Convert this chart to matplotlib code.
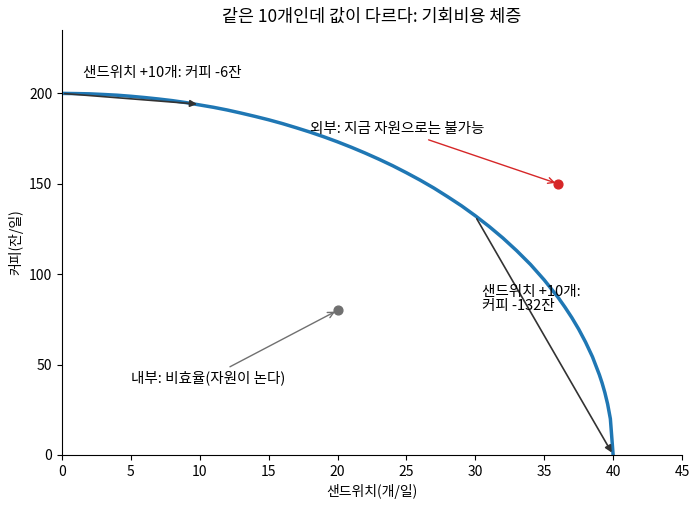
import matplotlib
matplotlib.use("Agg")
import matplotlib.pyplot as plt

plt.rcParams['font.family'] = ['Noto Sans CJK KR', 'DejaVu Sans']
plt.rcParams['axes.unicode_minus'] = False

# frontier points
sandwich = [0, 1, 2, 3, 4, 5, 6, 7, 8, 9, 10, 11, 12, 13, 14, 15, 16, 17, 18, 19, 20,
            21, 22, 23, 24, 25, 26, 27, 28, 29, 30, 31, 32, 33, 34, 35, 36, 36.5, 37,
            37.5, 38, 38.5, 39, 39.2, 39.4, 39.6, 39.8, 40]
coffee = [200, 199.9, 199.75, 199.4, 199.0, 198.4, 197.7, 196.9, 196.0, 194.9, 193.6,
          192.3, 190.8, 189.1, 187.3, 185.4, 183.3, 181.0, 178.6, 176.0, 173.2,
          170.2, 167.0, 163.6, 160.0, 156.1, 152.0, 147.6, 142.8, 137.8, 132.3,
          126.4, 120.0, 113.0, 105.4, 96.8, 87.2, 81.8, 76.0,
          69.6, 62.4, 54.3, 44.4, 39.8, 34.5, 28.2, 20.0, 0]

step1 = [(0, 200), (10, 194)]
step2 = [(30, 132), (40, 0)]
outside_pt = (36, 150)
inside_pt = (20, 80)

title = "같은 10개인데 값이 다르다: 기회비용 체증"
xlabel = "샌드위치(개/일)"
ylabel = "커피(잔/일)"
txt1 = "샌드위치 +10개: 커피 -6잔"
txt2 = "샌드위치 +10개:\n커피 -132잔"
txt_out = "외부: 지금 자원으로는 불가능"
txt_in = "내부: 비효율(자원이 논다)"

fig = plt.figure(figsize=(6.99, 5.07), dpi=100)
ax = fig.add_axes([0.0887, 0.1026, 0.887, 0.838])

ax.plot(sandwich, coffee, color='#1f77b4', lw=2.5, solid_joinstyle='round')

ax.annotate("", xy=step1[1], xytext=step1[0],
            arrowprops=dict(arrowstyle='-|>', color='#333333', lw=1.2))
ax.text(1.5, 209, txt1, fontsize=10.5)

ax.annotate("", xy=step2[1], xytext=step2[0],
            arrowprops=dict(arrowstyle='-|>', color='#333333', lw=1.2))
ax.text(30.5, 80, txt2, fontsize=10.5, linespacing=1.0)

ax.scatter([outside_pt[0]], [outside_pt[1]], color='#d62728', s=40, zorder=3)
ax.annotate(txt_out, xy=outside_pt, xytext=(18, 178), fontsize=10.5,
            arrowprops=dict(arrowstyle='->', color='#d62728', lw=1))

ax.scatter([inside_pt[0]], [inside_pt[1]], color='#707070', s=40, zorder=3)
ax.annotate(txt_in, xy=inside_pt, xytext=(5, 40), fontsize=10.5,
            arrowprops=dict(arrowstyle='->', color='#707070', lw=1))

ax.set_xlim(0, 45)
ax.set_ylim(0, 235)
ax.set_xticks(range(0, 46, 5))
ax.set_yticks([0, 50, 100, 150, 200])
ax.set_title(title, fontsize=12.5)
ax.set_xlabel(xlabel, fontsize=10)
ax.set_ylabel(ylabel, fontsize=10)
ax.spines['top'].set_visible(False)
ax.spines['right'].set_visible(False)

fig.savefig("out.png", dpi=100)
